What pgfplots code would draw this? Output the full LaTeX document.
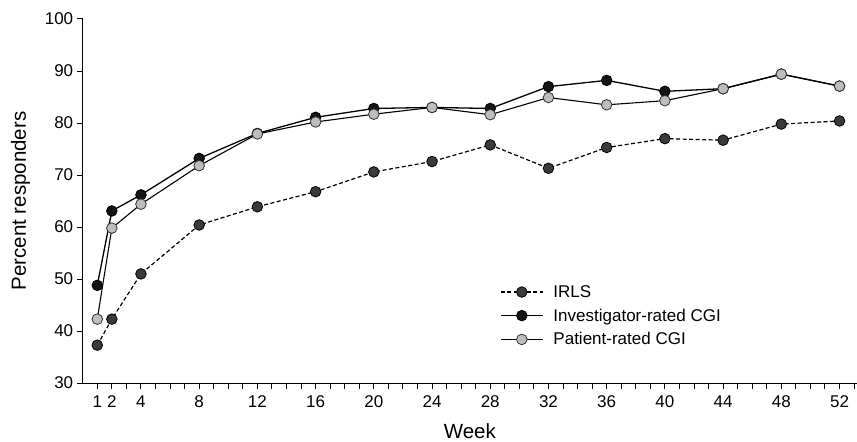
\documentclass[border=0pt]{standalone}
\usepackage{pgfplots}
\pgfplotsset{compat=1.18}
\usepackage{fontspec}
\setmainfont{Liberation Sans}
\definecolor{irls}{HTML}{3A3A3A}
\definecolor{inv}{HTML}{141414}
\definecolor{pat}{HTML}{BDBDBD}
\begin{document}
\begin{tikzpicture}
\begin{axis}[
  scale only axis, width=774bp, height=364bp,
  xmin=0, xmax=53.2, ymin=30, ymax=100,
  axis x line*=bottom, axis y line*=left,
  axis line style={-, line width=1bp},
  xtick={1,2,4,8,12,...,52},
  minor xtick={1,...,53},
  ytick={30,40,...,100},
  tick align=outside,
  major tick length=6bp, minor tick length=6bp,
  tick style={black, line width=1bp},
  /pgf/number format/assume math mode=true,
  ticklabel style={font=\fontsize{17bp}{20bp}\selectfont},
  xticklabel style={yshift=-3bp},
  xlabel={Week}, ylabel={Percent responders},
  label style={font=\fontsize{20.5bp}{24bp}\selectfont},
  xlabel style={at={(axis description cs:0.5,0)}, anchor=base, yshift=-55bp},
  ylabel style={at={(axis description cs:-0.0735,0.5)}, anchor=base},
  clip=false,
  legend style={at={(0.535,0.28)}, anchor=north west, draw=none, fill=none,
    font=\fontsize{17bp}{20bp}\selectfont, row sep=6bp,
    /tikz/every odd column/.append style={column sep=8bp}},
  legend cell align=left,
  legend image code/.code={\draw[mark repeat=2, mark phase=2, #1] plot coordinates {(0bp,0bp) (21bp,0bp) (42bp,0bp)};},
]
\addplot[black, line width=1.2bp, dash pattern=on 4bp off 2.5bp, mark=*, mark size=5.3bp,
  mark options={solid, fill=irls, draw=black, line width=0.8bp}]
  coordinates {(1,37.3)(2,42.3)(4,51.0)(8,60.4)(12,63.9)(16,66.8)(20,70.6)(24,72.6)(28,75.8)(32,71.3)(36,75.3)(40,77.0)(44,76.7)(48,79.8)(52,80.4)};
\addlegendentry{IRLS}
\addplot[black, line width=1.3bp, mark=*, mark size=5.3bp,
  mark options={solid, fill=inv, draw=black, line width=0.8bp}]
  coordinates {(1,48.8)(2,63.1)(4,66.2)(8,73.2)(12,78.0)(16,81.1)(20,82.8)(24,83.0)(28,82.8)(32,87.0)(36,88.2)(40,86.1)(44,86.6)(48,89.4)(52,87.1)};
\addlegendentry{Investigator-rated CGI}
\addplot[black, line width=1.1bp, mark=*, mark size=5.3bp,
  mark options={solid, fill=pat, draw=black!80, line width=0.8bp}]
  coordinates {(1,42.3)(2,59.8)(4,64.4)(8,71.8)(12,77.9)(16,80.2)(20,81.7)(24,83.0)(28,81.6)(32,84.9)(36,83.5)(40,84.3)(44,86.6)(48,89.4)(52,87.1)};
\addlegendentry{Patient-rated CGI}
\end{axis}
\pgfresetboundingbox
\path ([shift={(-82.7bp,-58bp)}]current axis.south west) rectangle ([shift={(0bp,19bp)}]current axis.north east);
\end{tikzpicture}
\end{document}
